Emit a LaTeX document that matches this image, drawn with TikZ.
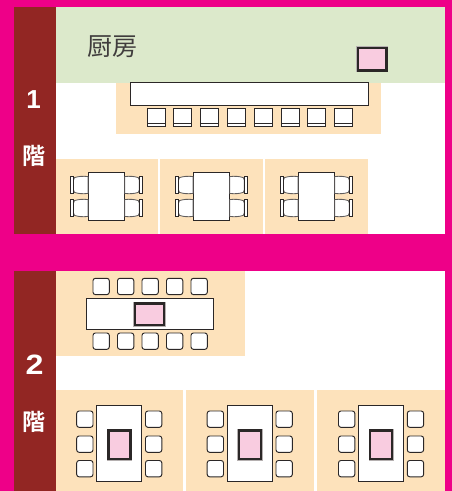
\documentclass[tikz,border=0pt]{standalone}
\usepackage{fontspec}
\newfontfamily\jpfont{Noto Sans CJK JP}
\newfontfamily\jpbold{Noto Sans CJK JP Bold}
\newfontfamily\digitfont{Liberation Sans Bold}
\definecolor{mag}{HTML}{EE0088}
\definecolor{brownbar}{HTML}{922623}
\definecolor{kitchen}{HTML}{DCE9CB}
\definecolor{tan}{HTML}{FDE2BB}
\definecolor{pinkbox}{HTML}{F9CCE0}
\definecolor{ink}{HTML}{2B2727}
\definecolor{halo}{HTML}{B5B0B0}
\tikzset{
  x=1pt,y=-1pt,
  furn/.style={draw=ink,fill=white,line width=0.9pt},
  stoolbox/.style={furn,rounded corners=2.4pt,line width=0.95pt},
  floorlabel/.style={text=white,inner sep=0pt,anchor=center},
  chair/.pic={
    \draw[draw=ink!75,fill=white,line width=0.85pt] (0,-8.4) .. controls (-5,-9) and (-9,-8.8) .. (-13.5,-7.4)
      -- (-14.5,-5) -- (-14.5,5) -- (-13.5,7.4) .. controls (-9,8.8) and (-5,9) .. (0,8.4) -- cycle;
    \draw[furn,line width=0.8pt] (-17.5,-8.6) rectangle (-15,8.6);
  },
  counterstool/.pic={
    \draw[furn] (0,0) rectangle (18,18.5);
    \draw[ink,line width=0.7pt] (0,15.5) -- (18,15.5);
  }
}
\newcommand{\pinkscreen}[4]{%
  \draw[halo,line width=3.4pt] (#1,#2) rectangle (#3,#4);
  \draw[ink,fill=pinkbox,line width=2.1pt] (#1,#2) rectangle (#3,#4);
}
\newcommand{\stoolat}[2]{\draw[stoolbox] (#1,#2) rectangle ++(16.3,16.3);}
\begin{document}
\begin{tikzpicture}
\useasboundingbox (0,0) rectangle (452,491);
\fill[mag] (0,0) rectangle (452,491);
% panels
\fill[white] (56,7) rectangle (445,234);
\fill[white] (56,271) rectangle (445,491);
\fill[brownbar] (14,7) rectangle (56,234);
\fill[brownbar] (14,271) rectangle (56,491);
% floor 1
\fill[kitchen] (56,7) rectangle (445,83);
\fill[tan] (116,83) rectangle (381,134);
\fill[tan] (56,159) rectangle (158,234);
\fill[tan] (160,159) rectangle (263,234);
\fill[tan] (265,159) rectangle (368,234);
\node[inner sep=0pt,text=ink!90,font=\jpfont\fontsize{25}{25}\selectfont] (kitchenlabel) at (112.5,47) {厨房};
\pinkscreen{358}{48}{386.5}{70.5}
\draw[furn] (130.2,82.7) rectangle (368.2,105);
\foreach \k in {0,...,7} \pic at ({147+26.8*\k},108.3) {counterstool};
\foreach \tx in {88,193,298}{
  \draw[furn] (\tx,172.3) rectangle ++(36.8,48.3);
  \foreach \cy in {185,208}{
    \pic at (\tx,\cy) {chair};
    \pic[xscale=-1] at (\tx+36.8,\cy) {chair};
  }
}
% floor 2
\fill[tan] (56,271) rectangle (245,356);
\fill[tan] (56,390) rectangle (183,491);
\fill[tan] (186,390) rectangle (314,491);
\fill[tan] (317,390) rectangle (445,491);
\draw[furn] (86.5,298.3) rectangle (213,329.3);
\pinkscreen{135}{303.5}{164}{325}
\foreach \k in {0,...,4}{
  \stoolat{93+24.5*\k}{278.3}
  \stoolat{93+24.5*\k}{333}
}
\foreach \tx in {96.5,227,358.3}{
  \draw[furn] (\tx,405.5) rectangle ++(45.2,76);
  \pinkscreen{\tx+12}{430.5}{\tx+34}{459}
  \foreach \sy in {411,436,460.5}{
    \stoolat{\tx-19.8}{\sy}
    \stoolat{\tx+49}{\sy}
  }
}
% labels
\node[floorlabel,font=\digitfont\fontsize{26}{26}\selectfont] (one) at (33.5,100) {1};
\node[floorlabel,font=\jpbold\fontsize{23}{23}\selectfont] (kaione) at (34,156) {階};
\node[floorlabel,font=\digitfont\fontsize{28}{28}\selectfont,xscale=1.15] (two) at (34.5,365) {2};
\node[floorlabel,font=\jpbold\fontsize{23}{23}\selectfont] (kaitwo) at (34,422) {階};
\end{tikzpicture}
\end{document}
